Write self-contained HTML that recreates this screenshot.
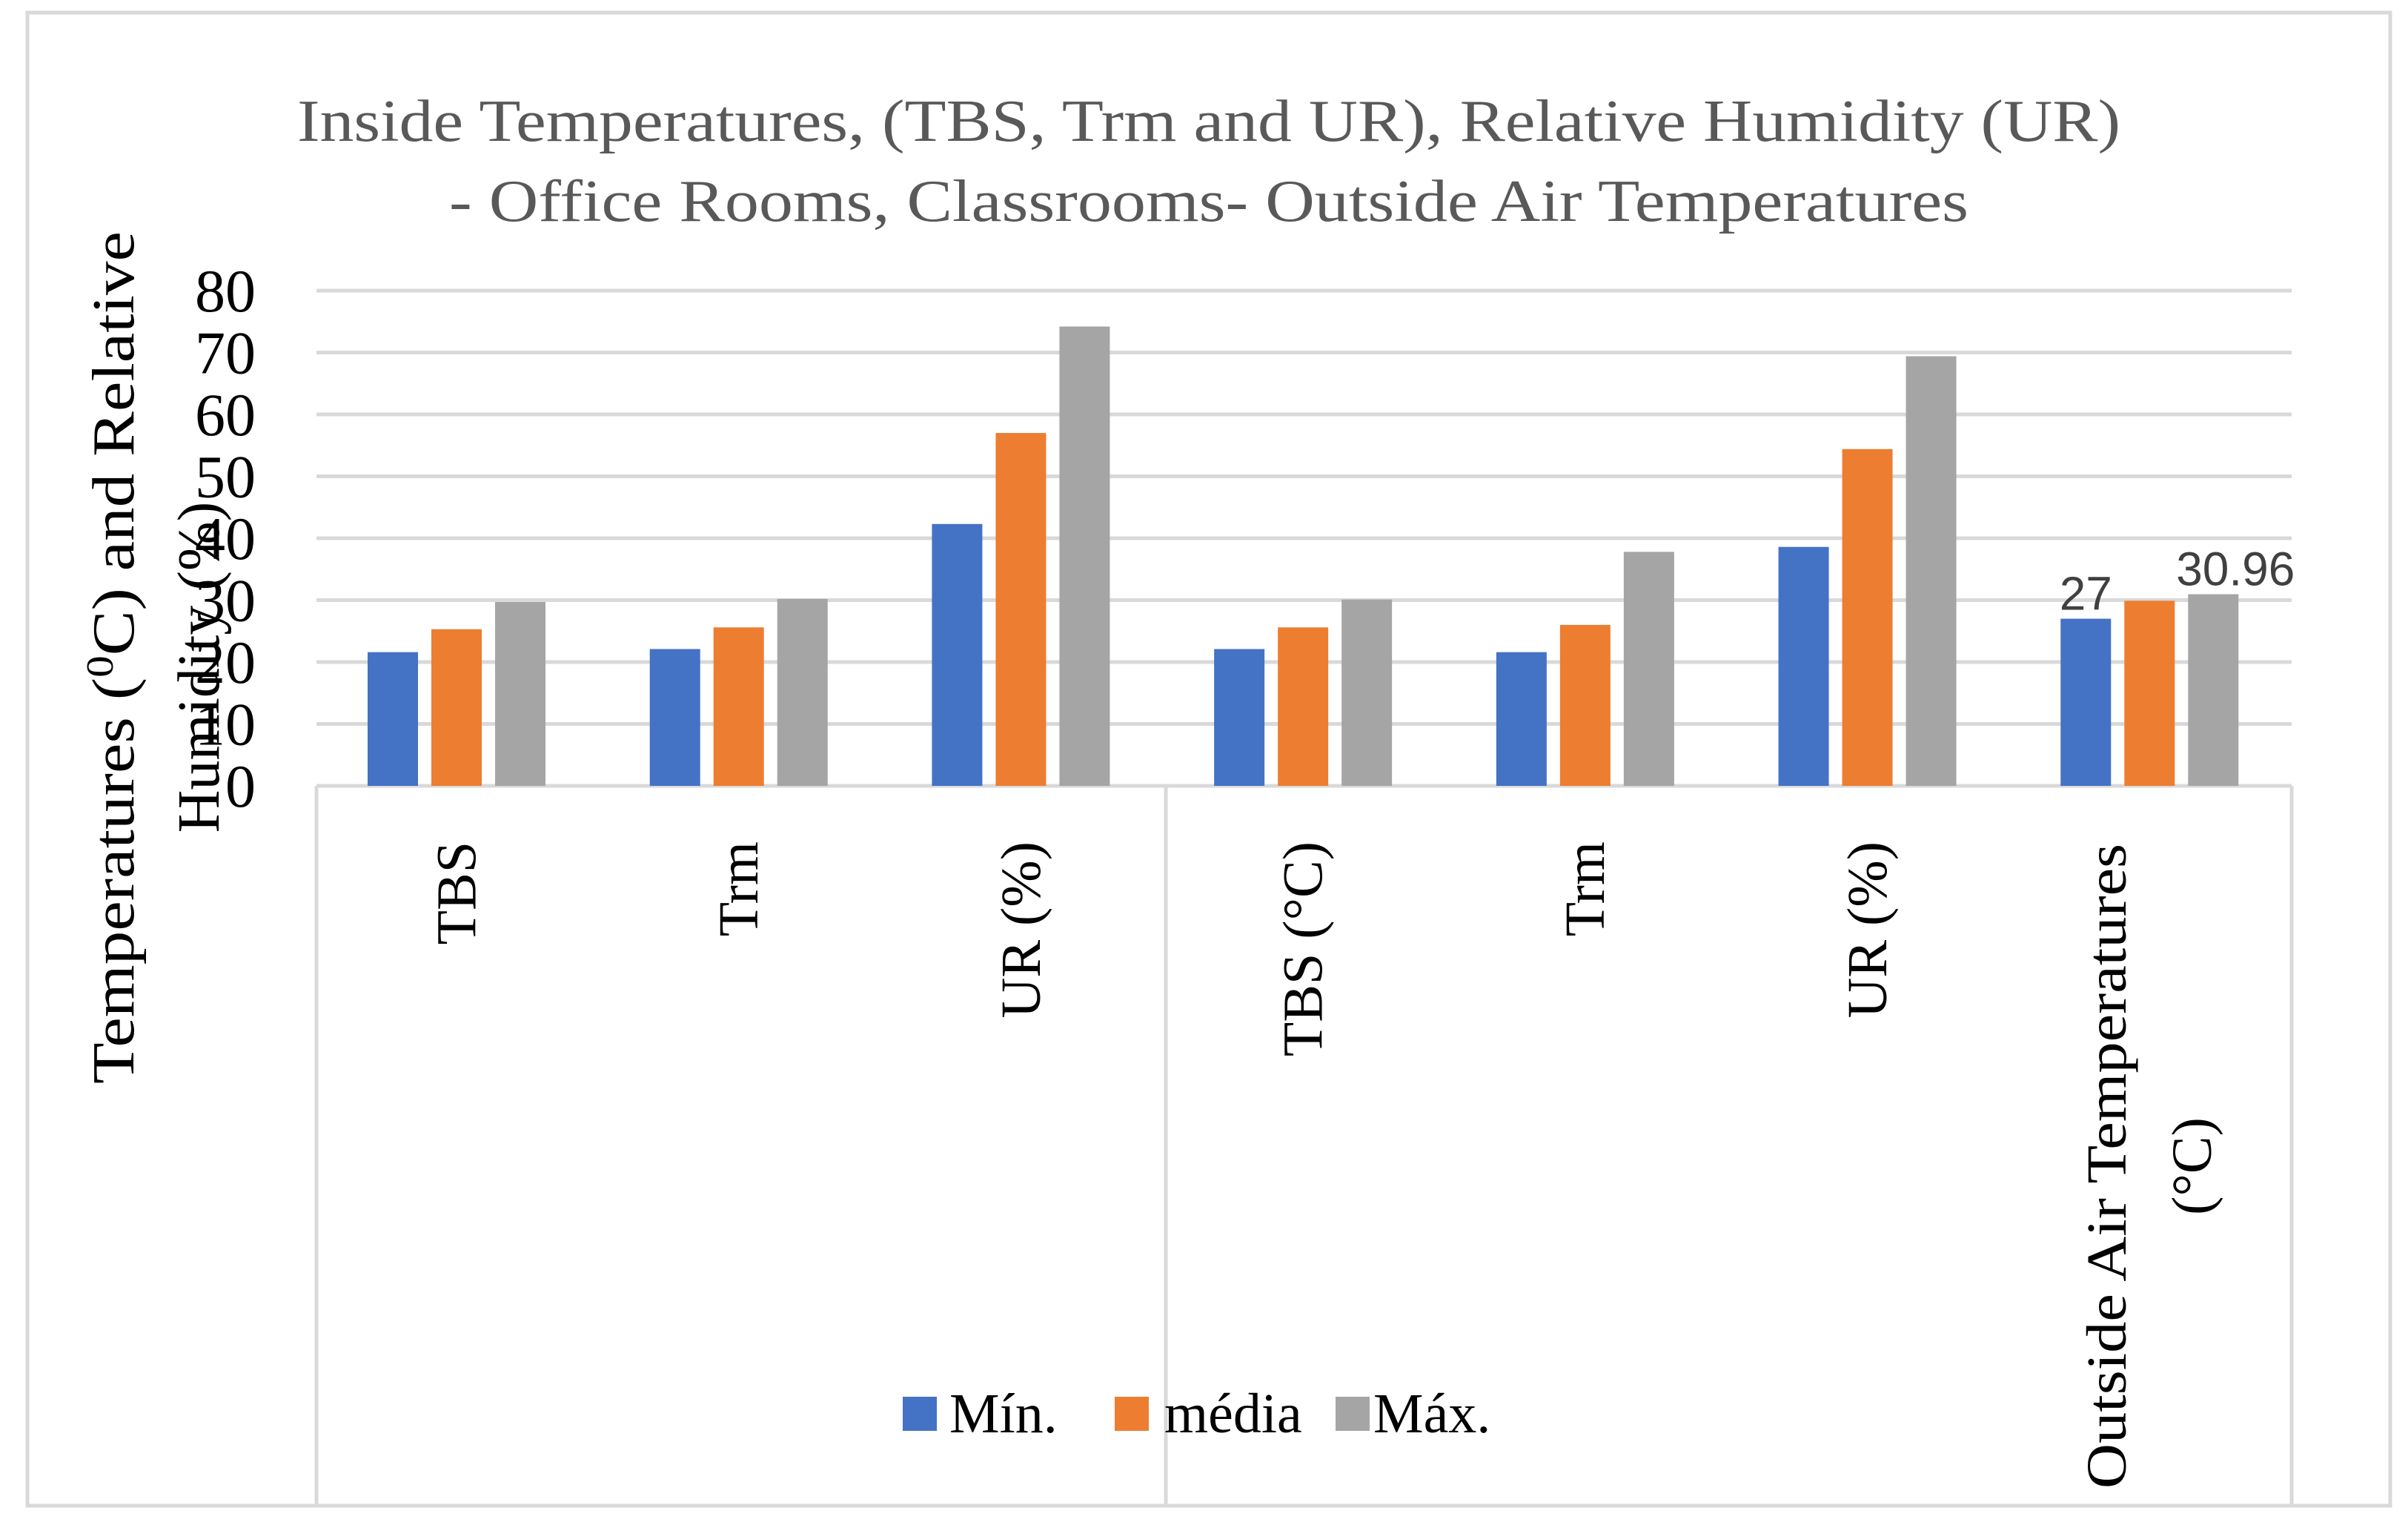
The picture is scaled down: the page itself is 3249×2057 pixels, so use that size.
<!DOCTYPE html>
<html><head><meta charset="utf-8"><style>
html,body{margin:0;padding:0;background:#fff}
svg{display:block}
</style></head><body>
<svg id="chart" width="3249" height="2057" viewBox="0 0 3249 2057" xmlns="http://www.w3.org/2000/svg">
<rect x="37" y="17" width="3188" height="2014" fill="#fff" stroke="#d9d9d9" stroke-width="5"/>
<g font-family="'Liberation Serif', serif" fill="#595959" font-size="80" text-anchor="middle">
<text x="1631" y="190" textLength="2460" lengthAdjust="spacingAndGlyphs">Inside Temperatures,  (TBS, Trm and UR), Relative Humidity (UR)</text>
<text x="1631" y="298" textLength="2050" lengthAdjust="spacingAndGlyphs">- Office Rooms, Classrooms- Outside Air Temperatures</text>
</g>
<g id="grid"></g>
<g id="bars"></g>
<g id="yticks"></g>
<g id="xcats"></g>
<g font-family="'Liberation Serif', serif" font-size="80" fill="#000" text-anchor="middle">
<text transform="translate(180,887) rotate(-90)" textLength="1150" lengthAdjust="spacingAndGlyphs">Temperatures (<tspan font-size="52" dy="-28">0</tspan><tspan dy="28">C) and Relative</tspan></text>
<text transform="translate(295,900) rotate(-90)">Humidity (%)</text>
</g>
<g font-family="'Liberation Serif', serif" font-size="76" fill="#000">
<rect x="1218" y="1884" width="46" height="46" fill="#4472c4"/>
<text x="1281" y="1932">Mín.</text>
<rect x="1504" y="1884" width="46" height="46" fill="#ed7d31"/>
<text x="1571" y="1932">média</text>
<rect x="1802" y="1884" width="46" height="46" fill="#a5a5a5"/>
<text x="1853" y="1932">Máx.</text>
</g>
</svg>
<script>
const categories = ["TBS","Trm","UR (%)","TBS (°C)","Trm","UR (%)","Outside Air Temperatures|(°C)"];
const minValues = [21.6,22.1,42.3,22.1,21.6,38.6,27];
const mediaValues = [25.3,25.6,57.0,25.6,26.0,54.4,29.9];
const maxValues = [29.7,30.2,74.2,30.1,37.8,69.4,30.96];
const yTicks = [0,10,20,30,40,50,60,70,80];
const NS = "http://www.w3.org/2000/svg";
const X0 = 427, X1 = 3092, Y0 = 1060, Y1 = 392, YMAX = 80;
const band = (X1 - X0) / categories.length;
function y(v){ return Y0 - (v / YMAX) * (Y0 - Y1); }
function bx(i, s){ return X0 + i * band + 69 + s * 86; }
function mk(tag, attrs, parent){ const e = document.createElementNS(NS, tag); for (const k in attrs) e.setAttribute(k, attrs[k]); parent.appendChild(e); return e; }
const grid = document.getElementById('grid');
const yt = document.getElementById('yticks');
yTicks.forEach(t => {
  const l = mk('line', {x1:X0, x2:X1, y1:y(t), y2:y(t), stroke:'#d9d9d9', 'stroke-width':5}, grid);
  
  
  const tx = mk('text', {x:345, y:y(t)+28, 'text-anchor':'end', 'font-family':"'Liberation Serif', serif", 'font-size':82, fill:'#000'}, yt);
  tx.textContent = t;
  
  
});
[[X0,X0],[1573,1573],[X1,X1]].forEach(p => {
  const l = mk('line', {x1:p[0], x2:p[1], y1:Y0, y2:2031, stroke:'#d9d9d9', 'stroke-width':5}, grid);
  
  
});
const bars = document.getElementById('bars');
const series = [[minValues,'#4472c4','min'],[mediaValues,'#ed7d31','media'],[maxValues,'#a5a5a5','max']];
series.forEach((s, si) => {
  s[0].forEach((v, i) => {
    const r = mk('rect', {x:bx(i, si), y:y(v), width:68, height:Y0 - y(v), fill:s[1]}, bars);
    
    
  });
});
const lastI = categories.length - 1;
[[0, minValues[lastI]], [2, maxValues[lastI]]].forEach(p => {
  const t = mk('text', {x:bx(lastI, p[0]) + 34 + (p[0] === 2 ? 30 : 0), y:y(p[1]) - 12, 'text-anchor':'middle', 'font-family':"'Liberation Sans', sans-serif", 'font-size':64, fill:'#404040'}, bars);
  t.textContent = String(p[1]);
  
  
});
const xc = document.getElementById('xcats');
categories.forEach((c, i) => {
  const lines = c.split('|');
  const cx = X0 + (i + 0.5) * band;
  lines.forEach((ln, li) => {
    const off = (li - (lines.length - 1) / 2) * 115;
    const t = mk('text', {transform:`translate(${cx + off + 24},1135) rotate(-90)`, 'text-anchor':'end', 'font-family':"'Liberation Serif', serif", 'font-size':76, fill:'#000'}, xc);
    if (lines.length > 1) {
      t.setAttribute('text-anchor', 'middle');
      t.setAttribute('transform', `translate(${cx + off + 24},1573) rotate(-90)`);
      if (li === 0) { t.setAttribute('textLength', '870'); t.setAttribute('lengthAdjust', 'spacingAndGlyphs'); }
    }
    t.textContent = ln;
    
    
  });
});
</script>
</body></html>
